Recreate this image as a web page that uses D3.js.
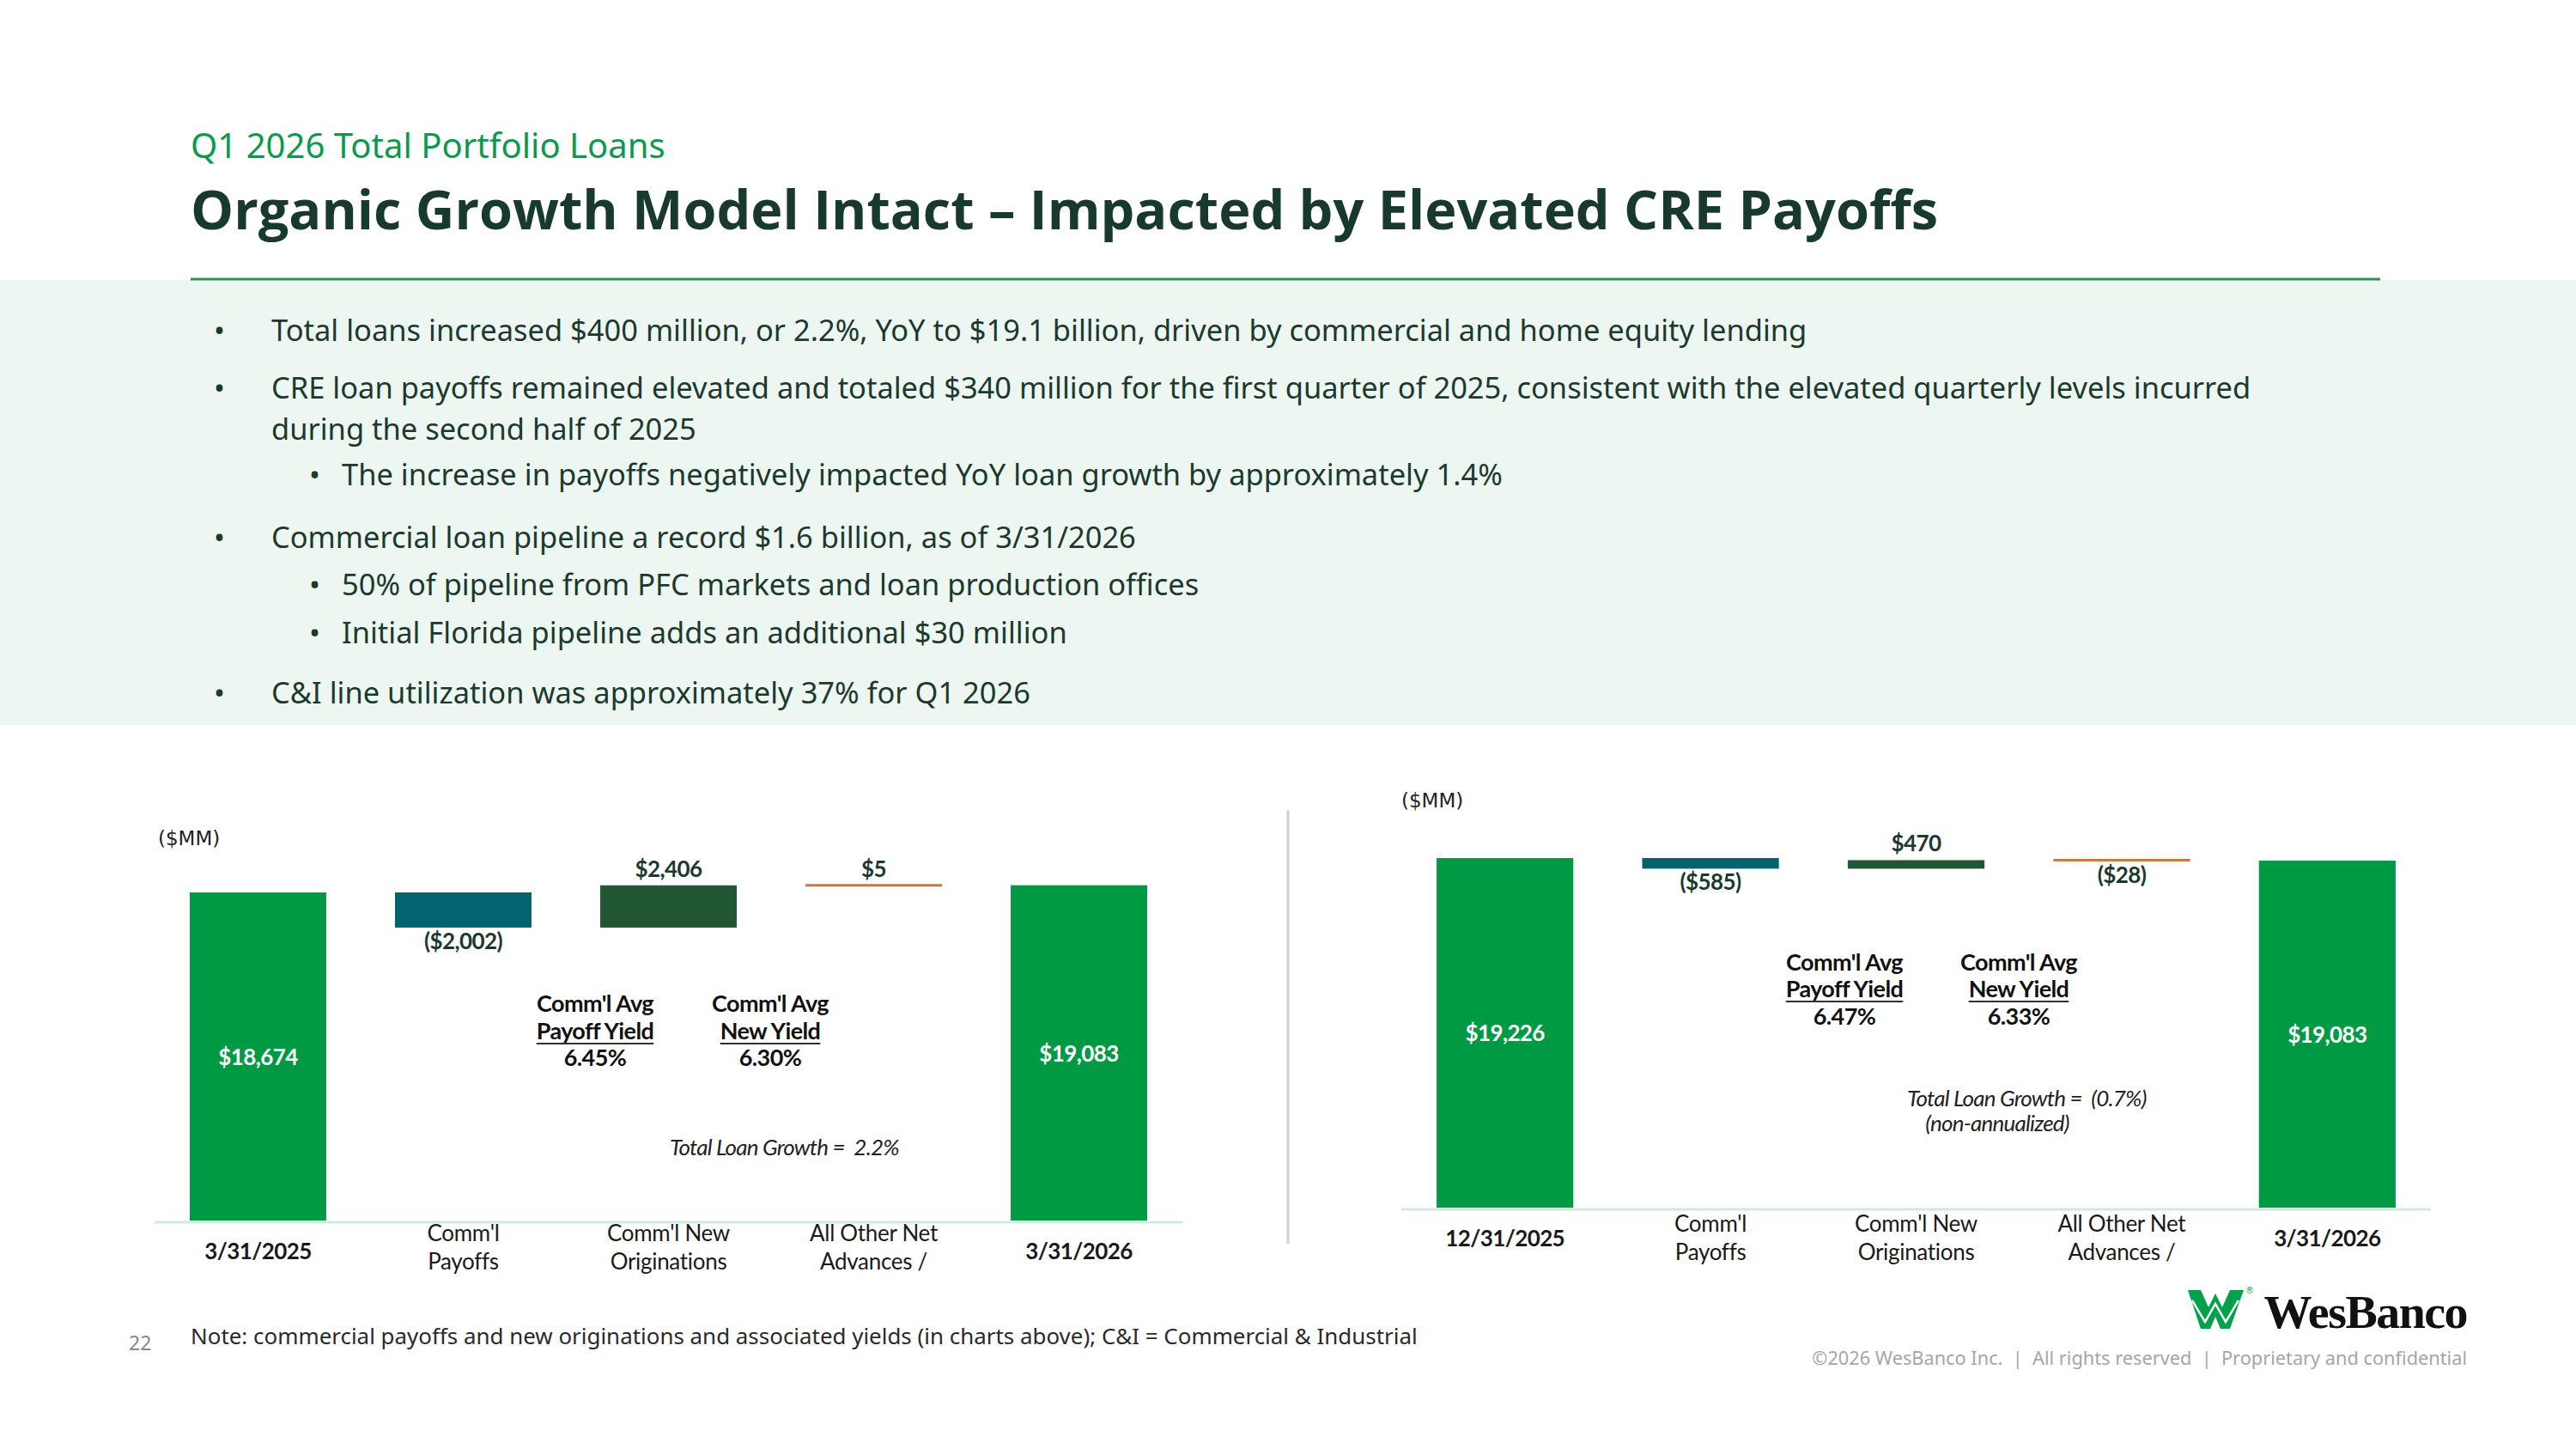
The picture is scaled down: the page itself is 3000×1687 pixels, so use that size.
<!DOCTYPE html>
<html>
<head>
<meta charset="utf-8">
<script src="https://cdn.jsdelivr.net/npm/d3@7"></script>
<style>
  html, body { margin: 0; padding: 0; background: #ffffff; }
  svg { display: block; }
</style>
</head>
<body>
<svg id="slide" width="3000" height="1687"></svg>
<script>
// ---------------- DATA ----------------
const subtitleText = "Q1 2026 Total Portfolio Loans";
const titleText = "Organic Growth Model Intact \u2013 Impacted by Elevated CRE Payoffs";

const bulletItems = [
  { level: 0, lines: ["Total loans increased $400 million, or 2.2%, YoY to $19.1 billion, driven by commercial and home equity lending"] },
  { level: 0, lines: ["CRE loan payoffs remained elevated and totaled $340 million for the first quarter of 2025, consistent with the elevated quarterly levels incurred", "during the second half of 2025"] },
  { level: 1, lines: ["The increase in payoffs negatively impacted YoY loan growth by approximately 1.4%"] },
  { level: 0, lines: ["Commercial loan pipeline a record $1.6 billion, as of 3/31/2026"] },
  { level: 1, lines: ["50% of pipeline from PFC markets and loan production offices"] },
  { level: 1, lines: ["Initial Florida pipeline adds an additional $30 million"] },
  { level: 0, lines: ["C&I line utilization was approximately 37% for Q1 2026"] }
];

const leftCategories = ["3/31/2025", "Comm'l\nPayoffs", "Comm'l New\nOriginations", "All Other Net\nAdvances /", "3/31/2026"];
const leftValues = [18674, -2002, 2406, 5, 19083];
const leftYields = ["6.45%", "6.30%"];
const leftGrowth = ["Total Loan Growth =\u00A0\u00A02.2%"];

const rightCategories = ["12/31/2025", "Comm'l\nPayoffs", "Comm'l New\nOriginations", "All Other Net\nAdvances /", "3/31/2026"];
const rightValues = [19226, -585, 470, -28, 19083];
const rightYields = ["6.47%", "6.33%"];
const rightGrowth = ["Total Loan Growth =\u00A0\u00A0(0.7%)", "(non-annualized)"];

const barKinds = ["total", "payoff", "new", "other", "total"];
const yieldHeads = [["Comm'l Avg", "Payoff Yield"], ["Comm'l Avg", "New Yield"]];

const noteText = "Note: commercial payoffs and new originations and associated yields (in charts above); C&I = Commercial & Industrial";
const pageNumber = "22";
const copyrightText = "\u00A92026 WesBanco Inc.\u00A0\u00A0|\u00A0\u00A0All rights reserved\u00A0\u00A0|\u00A0\u00A0Proprietary and confidential";

// ---------------- STYLE ----------------
const colors = { total: "#009a44", payoff: "#03646f", new: "#215732", other: "#c8773d" };
const darkText = "#1b3a2d";
const chartFont = "Lato, 'Noto Sans', sans-serif";
const bodyFont = "'Noto Sans', 'Open Sans', sans-serif";

const svg = d3.select("#slide");

function fitWidth(sel, target) {
  const cur = sel.node().getComputedTextLength();
  const fs = parseFloat(sel.attr("font-size"));
  sel.attr("font-size", (fs * target / cur).toFixed(2));
  return fs * target / cur;
}

// ---------------- HEADER ----------------
const sub = svg.append("text").attr("x", 222).attr("y", 168)
  .attr("dominant-baseline", "central")
  .attr("font-family", bodyFont).attr("font-size", 38).attr("fill", "#0b9a4c")
  .text(subtitleText);
fitWidth(sub, 553);

const ttl = svg.append("text").attr("x", 222).attr("y", 242)
  .attr("dominant-baseline", "central")
  .attr("font-family", "'Open Sans', 'Noto Sans', sans-serif").attr("font-weight", 700)
  .attr("font-size", 64).attr("fill", "#173a2c")
  .text(titleText);
fitWidth(ttl, 2035);

// panel
svg.append("rect").attr("x", 0).attr("y", 326).attr("width", 3000).attr("height", 518).attr("fill", "#eef6f2");
svg.append("line").attr("x1", 222).attr("x2", 2772).attr("y1", 325).attr("y2", 325)
  .attr("stroke", "#2f8f5b").attr("stroke-width", 3);

// bullets
const probe = svg.append("text").attr("font-family", bodyFont).attr("font-size", 34).text(bulletItems[0].lines[0]);
const bulletFs = 34 * 1789 / probe.node().getComputedTextLength();
probe.remove();
const wrapGap = Math.ceil(bulletFs * 1.37);
const bulletLineY = [383, 474.5 - wrapGap / 2, 474.5 + wrapGap / 2, 551, 624, 679, 735, 805];
let li = 0;

bulletItems.forEach(item => {
  const bx = item.level === 0 ? 249 : 360;
  const tx = item.level === 0 ? 316 : 398;
  svg.append("text").attr("x", bx).attr("y", bulletLineY[li])
    .attr("dominant-baseline", "central")
    .attr("font-family", bodyFont).attr("font-size", bulletFs).attr("fill", darkText)
    .text("\u2022");
  const t = svg.append("text")
    .attr("font-family", bodyFont).attr("font-size", bulletFs).attr("fill", darkText);
  item.lines.forEach(line => {
    t.append("tspan").attr("x", tx).attr("y", bulletLineY[li])
      .attr("dominant-baseline", "central").text(line);
    li++;
  });
});

// ---------------- WATERFALL CHARTS ----------------
function drawWaterfall(cfg) {
  const g = svg.append("g");
  const x = d3.scaleBand().domain(cfg.cats).range([cfg.x0, cfg.x1])
    .paddingInner(0.335).paddingOuter(0.1715);
  const y = d3.scaleLinear().domain([0, 20000]).range([cfg.baseY, cfg.yTop]);

  let running = 0;
  const segs = cfg.vals.map((v, i) => {
    const kind = barKinds[i];
    let a, b;
    if (kind === "total") { a = 0; b = v; running = v; }
    else { a = running; b = running + v; running += v; }
    return { cat: cfg.cats[i], v, kind, a, b };
  });

  // baseline
  g.append("line").attr("x1", cfg.x0).attr("x2", cfg.x1)
    .attr("y1", cfg.baseY + 2).attr("y2", cfg.baseY + 2)
    .attr("stroke", "#d3e9df").attr("stroke-width", 3);

  // bars
  segs.forEach(s => {
    const yt = y(Math.max(s.a, s.b)), yb = y(Math.min(s.a, s.b));
    let h = yb - yt, top = yt;
    if (h < 3) { top = y(s.a) - 1.5; h = 3; }
    g.append("rect").attr("x", x(s.cat)).attr("y", top)
      .attr("width", x.bandwidth()).attr("height", h)
      .attr("fill", colors[s.kind]);
  });

  const fmt = d3.format(",");
  segs.forEach(s => {
    const cx = x(s.cat) + x.bandwidth() / 2;
    const txt = s.v < 0 ? "($" + fmt(-s.v) + ")" : "$" + fmt(s.v);
    let ly, fill = darkText;
    if (s.kind === "total") {
      ly = (y(0) + y(s.b)) / 2; fill = "#ffffff";
    } else if (s.v >= 0) {
      ly = y(Math.max(s.a, s.b)) - 20;
    } else {
      ly = Math.max(y(Math.min(s.a, s.b)), y(s.a) + 1.5) + 15;
    }
    g.append("text").attr("x", cx).attr("y", ly)
      .attr("text-anchor", "middle").attr("dominant-baseline", "central")
      .attr("font-family", chartFont).attr("font-weight", 700).attr("font-size", 26)
      .attr("letter-spacing", -0.6)
      .attr("fill", fill).text(txt);
  });

  // category labels
  segs.forEach(s => {
    const cx = x(s.cat) + x.bandwidth() / 2;
    const parts = s.cat.split("\n");
    const isTotal = s.kind === "total";
    const t = g.append("text").attr("text-anchor", "middle")
      .attr("font-family", chartFont).attr("font-weight", isTotal ? 700 : 400)
      .attr("font-size", 26).attr("fill", "#1a1a1a").attr("letter-spacing", isTotal ? -0.6 : -0.3);
    parts.forEach((p, k) => {
      const ly = parts.length === 1 ? cfg.baseY + 35 : cfg.baseY + cfg.twoLineOffset + k * 33;
      t.append("tspan").attr("x", cx).attr("y", ly).attr("dominant-baseline", "central").text(p);
    });
  });

  // ($MM)
  g.append("text").attr("x", cfg.mmX).attr("y", cfg.mmY)
    .attr("dominant-baseline", "central")
    .attr("font-family", "'DejaVu Sans', sans-serif").attr("font-size", 23).attr("fill", "#222")
    .text("($MM)");

  // yield annotations
  cfg.yields.forEach((val, k) => {
    const cx = cfg.yieldX[k];
    const lines = [yieldHeads[k][0], yieldHeads[k][1], val];
    const tEl = g.append("text").attr("text-anchor", "middle")
      .attr("font-family", chartFont).attr("font-weight", 700).attr("font-size", 27)
      .attr("fill", "#111").attr("letter-spacing", -0.6);
    lines.forEach((t, j) => {
      const sp = tEl.append("tspan").attr("x", cx).attr("y", cfg.yieldY[j])
        .attr("dominant-baseline", "central").text(t);
      if (j === 1) {
        const w = sp.node().getComputedTextLength();
        g.append("line").attr("x1", cx - w / 2).attr("x2", cx + w / 2)
          .attr("y1", cfg.yieldY[j] + 16).attr("y2", cfg.yieldY[j] + 16)
          .attr("stroke", "#333").attr("stroke-width", 2);
      }
    });
  });

  // growth note
  cfg.growth.forEach((t, k) => {
    g.append("text").attr("x", cfg.growthPos[k][0]).attr("y", cfg.growthPos[k][1])
      .attr("text-anchor", cfg.growthPos[k][2]).attr("dominant-baseline", "central")
      .attr("font-family", chartFont).attr("font-style", "italic").attr("font-size", 26)
      .attr("fill", "#222").attr("letter-spacing", -0.8).text(t);
  });
}

drawWaterfall({
  cats: leftCategories, vals: leftValues, x0: 180, x1: 1377,
  baseY: 1421, yTop: 1421 - 20000 * 0.020456, twoLineOffset: 14,
  mmX: 184, mmY: 976,
  yields: leftYields, yieldX: [693, 897], yieldY: [1167, 1199, 1230],
  growth: leftGrowth, growthPos: [[780, 1335, "start"]]
});

drawWaterfall({
  cats: rightCategories, vals: rightValues, x0: 1632, x1: 2831,
  baseY: 1406, yTop: 1406 - 20000 * 0.02117, twoLineOffset: 18,
  mmX: 1632, mmY: 932,
  yields: rightYields, yieldX: [2148, 2351], yieldY: [1119, 1150, 1182],
  growth: rightGrowth, growthPos: [[2221, 1278, "start"], [2326, 1307, "middle"]]
});

// separator
svg.append("line").attr("x1", 1500).attr("x2", 1500).attr("y1", 943).attr("y2", 1448)
  .attr("stroke", "#cfcfcf").attr("stroke-width", 3);

// ---------------- FOOTER ----------------
svg.append("text").attr("x", 150).attr("y", 1563).attr("dominant-baseline", "central")
  .attr("font-family", bodyFont).attr("font-size", 23).attr("fill", "#8a8a8a").text(pageNumber);

const note = svg.append("text").attr("x", 222).attr("y", 1555).attr("dominant-baseline", "central")
  .attr("font-family", bodyFont).attr("font-size", 26).attr("fill", "#2a2a2a").text(noteText);
fitWidth(note, 1429);

const copy = svg.append("text").attr("x", 2873).attr("y", 1580).attr("dominant-baseline", "central")
  .attr("text-anchor", "end")
  .attr("font-family", bodyFont).attr("font-size", 22).attr("fill", "#a6a6a6").text(copyrightText);
fitWidth(copy, 763);

// logo
const logo = svg.append("g");
logo.append("path")
  .attr("d", "M2548,1502 L2563,1502 L2572,1522 L2580,1506 L2588,1522 L2597,1502 L2613,1502 L2597,1547 L2586,1547 L2580,1533 L2574,1547 L2563,1547 Z")
  .attr("fill", "#00a14b");
logo.append("polyline")
  .attr("points", "2553,1514 2568,1539 2580,1518 2592,1539 2607,1514")
  .attr("fill", "none").attr("stroke", "#ffffff").attr("stroke-width", 2.5);
logo.append("text").attr("x", 2615).attr("y", 1506).attr("font-family", "'DejaVu Sans', sans-serif")
  .attr("font-size", 10).attr("fill", "#00a14b").text("\u00AE");
const wb = logo.append("text").attr("x", 2873).attr("y", 1546).attr("text-anchor", "end")
  .attr("font-family", "'Liberation Serif', 'DejaVu Serif', serif").attr("font-weight", 700)
  .attr("font-size", 58).attr("fill", "#111").attr("letter-spacing", -1.5).text("WesBanco");
fitWidth(wb, 237);
</script>
</body>
</html>
